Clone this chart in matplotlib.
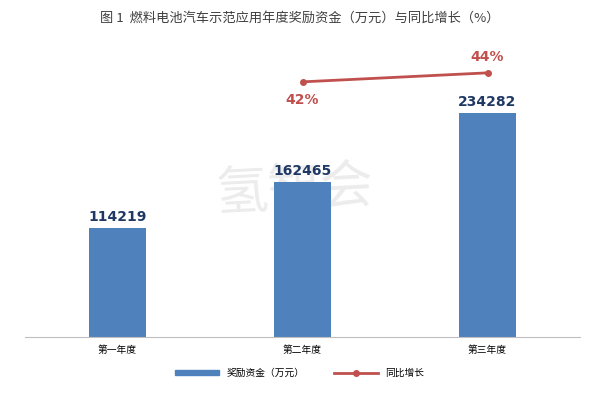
import matplotlib
matplotlib.use("Agg")
import matplotlib.pyplot as plt

plt.rcParams['font.family'] = ['Noto Sans CJK SC', 'DejaVu Sans']

categories = ["第一年度", "第二年度", "第三年度"]
funds = [114219, 162465, 234282]
growth_x = [1, 2]
growth = [42, 44]

fig = plt.figure(figsize=(6, 4), dpi=100)
ax = fig.add_axes([25/600, 63/400, 555/600, 297/400])
ax.text(0.486, 0.495, "氢智会", transform=ax.transAxes, ha='center', va='center',
        fontsize=38, color="#ececec", rotation=3, zorder=0)
ax.bar(range(3), funds, width=0.31, color="#4f81bd", zorder=2)
ax.set_xlim(-0.5, 2.5)
ax.set_ylim(0, 310600)
ax.set_xticks(range(3))
ax.set_xticklabels(categories, fontsize=7)
ax.tick_params(axis='x', length=0, pad=6)
ax.set_yticks([])
for s in ["top", "right", "left"]:
    ax.spines[s].set_visible(False)
ax.spines["bottom"].set_color("#bfbfbf")
for i, v in enumerate(funds):
    ax.text(i, v + 4000, str(v), ha='center', va='bottom', fontsize=10,
            fontweight='bold', color="#1f3864", family='DejaVu Sans', zorder=3)

ax2 = ax.twinx()
ax2.plot(growth_x, growth, color="#c0504d", marker='o', markersize=4, linewidth=2)
ax2.set_ylim(-14.7, 51.3)
ax2.axis('off')
ax2.text(growth_x[0], growth[0] - 2.5, f"{growth[0]}%", ha='center', va='top', fontsize=10,
         fontweight='bold', color="#c0504d", family='DejaVu Sans')
ax2.text(growth_x[1], growth[1] + 2.0, f"{growth[1]}%", ha='center', va='bottom', fontsize=10,
         fontweight='bold', color="#c0504d", family='DejaVu Sans')

fig.text(0.5, 1 - 18/400, "图 1  燃料电池汽车示范应用年度奖励资金（万元）与同比增长（%）",
         ha='center', va='center', fontsize=9.5, color="#404040")

from matplotlib.patches import Patch
from matplotlib.lines import Line2D
handles = [Patch(color="#4f81bd"),
           Line2D([], [], color="#c0504d", marker='o', markersize=4, linewidth=2)]
fig.legend(handles, ["奖励资金（万元）", "同比增长"], loc='center',
           bbox_to_anchor=(0.5, 1 - 373/400), ncol=2, frameon=False,
           fontsize=7, handlelength=4.5, columnspacing=3, handleheight=0.5)

fig.savefig("out.png", dpi=100)
